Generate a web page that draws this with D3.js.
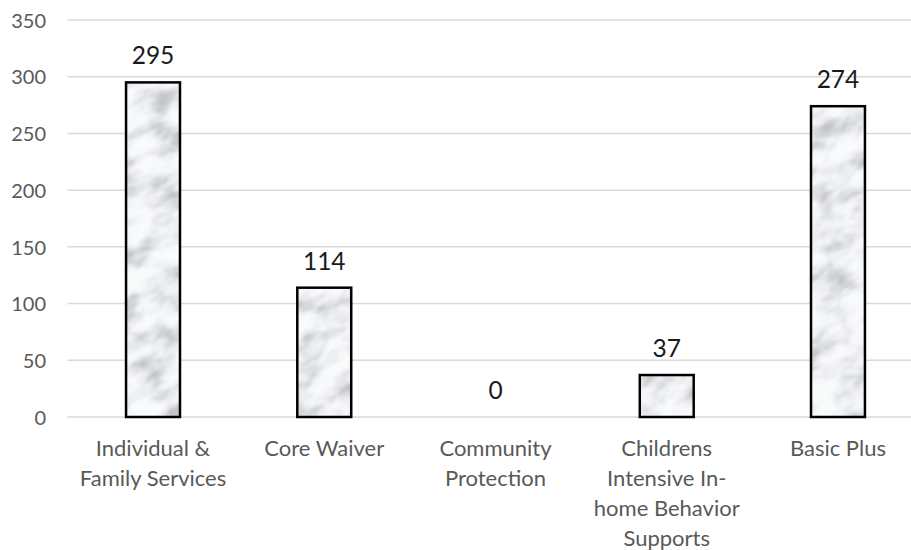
<!DOCTYPE html>
<html>
<head>
<meta charset="utf-8">
<script src="https://cdn.jsdelivr.net/npm/d3@7"></script>
<style>
  html, body { margin: 0; padding: 0; background: #fff; }
  svg { display: block; }
</style>
</head>
<body>
<svg id="chart" width="911" height="550"></svg>
<script>
// Program enrollment counts
const categories = [
  "Individual & Family Services",
  "Core Waiver",
  "Community Protection",
  "Childrens Intensive In-home Behavior Supports",
  "Basic Plus"
];
const values = [295, 114, 0, 37, 274];
const yTicks = [0, 50, 100, 150, 200, 250, 300, 350];

const W = 911, H = 550;
const FONT = "Lato, 'Open Sans', 'Noto Sans', sans-serif";

const svg = d3.select("#chart");

const x = d3.scaleBand()
  .domain(categories)
  .range([67.4, 923.6])
  .paddingInner(0.685)
  .paddingOuter(0.3425);

const y = d3.scaleLinear()
  .domain([0, 350])
  .range([417, 20]);

// Marble texture: soft noise mapped to pale greys, tiled through a rotated pattern
const defs = svg.append("defs");
const f = defs.append("filter")
  .attr("id", "marbleNoise")
  .attr("x", 0).attr("y", 0).attr("width", 1).attr("height", 1)
  .attr("filterUnits", "objectBoundingBox");
f.append("feTurbulence")
  .attr("type", "fractalNoise")
  .attr("baseFrequency", "0.03 0.05")
  .attr("numOctaves", 3)
  .attr("seed", 11)
  .attr("stitchTiles", "stitch")
  .attr("result", "n");
f.append("feColorMatrix")
  .attr("type", "matrix")
  .attr("values", "1.6 0 0 0 -0.3  1.6 0 0 0 -0.3  1.6 0 0 0 -0.3  0 0 0 0 1")
  .attr("result", "g");
const ct = f.append("feComponentTransfer");
ct.append("feFuncR").attr("type", "table").attr("tableValues", "0.55 0.62 0.69 0.76 0.83 0.88 0.92 0.94 0.95 0.96");
ct.append("feFuncG").attr("type", "table").attr("tableValues", "0.56 0.63 0.7 0.77 0.84 0.89 0.93 0.95 0.96 0.97");
ct.append("feFuncB").attr("type", "table").attr("tableValues", "0.59 0.66 0.73 0.8 0.87 0.91 0.94 0.96 0.97 0.98");

const pat = defs.append("pattern")
  .attr("id", "marble")
  .attr("patternUnits", "userSpaceOnUse")
  .attr("width", 700).attr("height", 700)
  .attr("patternTransform", "rotate(-30)");
pat.append("rect")
  .attr("width", 700).attr("height", 700)
  .attr("fill", "#fff")
  .attr("filter", "url(#marbleNoise)");

// Horizontal gridlines
svg.append("g")
  .selectAll("line")
  .data(yTicks)
  .join("line")
  .attr("x1", 67.4).attr("x2", W)
  .attr("y1", d => y(d)).attr("y2", d => y(d))
  .attr("stroke", "#d9d9d9")
  .attr("stroke-width", 1.5);

// Y axis labels
const yAxis = d3.axisLeft(y).tickValues(yTicks).tickSize(0).tickPadding(0);
svg.append("g")
  .attr("transform", "translate(46,0)")
  .call(yAxis)
  .call(g => g.select(".domain").remove())
  .call(g => g.selectAll("text")
    .attr("font-family", FONT)
    .attr("font-size", 20)
    .attr("fill", "#595959")
    .attr("dy", "0.36em"));

// Bars
const bars = svg.append("g");
bars.selectAll("rect")
  .data(values)
  .join("rect")
  .attr("x", (d, i) => x(categories[i]))
  .attr("y", d => y(d))
  .attr("width", x.bandwidth())
  .attr("height", d => y(0) - y(d))
  .attr("fill", "url(#marble)")
  .attr("stroke", d => d > 0 ? "#000" : "none")
  .attr("stroke-width", 2.5);

// Value labels
svg.append("g")
  .selectAll("text")
  .data(values)
  .join("text")
  .attr("x", (d, i) => x(categories[i]) + x.bandwidth() / 2)
  .attr("y", d => y(d) - 18)
  .attr("text-anchor", "middle")
  .attr("font-family", FONT)
  .attr("font-size", 24.5)
  .attr("fill", "#1a1a1a")
  .text(d => d);

// Category labels, wrapped to the band width
const xAxis = d3.axisBottom(x).tickSize(0).tickPadding(0);
const xg = svg.append("g")
  .attr("transform", `translate(0,${y(0)})`)
  .call(xAxis)
  .call(g => g.select(".domain").remove());

function wrap(textSel, maxW, lineH) {
  textSel.each(function(label) {
    const t = d3.select(this);
    const words = label.replace(/-/g, "- ").split(/\s+/).filter(Boolean);
    t.text(null);
    let lines = [], cur = "";
    const probe = t.append("tspan");
    for (const w of words) {
      const sep = cur === "" || cur.endsWith("-") ? "" : " ";
      const trial = cur + sep + w;
      probe.text(trial);
      if (cur !== "" && probe.node().getComputedTextLength() > maxW) {
        lines.push(cur);
        cur = w;
      } else {
        cur = trial;
      }
    }
    if (cur) lines.push(cur);
    probe.remove();
    lines.forEach((ln, k) => {
      t.append("tspan")
        .attr("x", 0)
        .attr("y", 39 + k * lineH)
        .text(ln);
    });
  });
}

xg.selectAll("text")
  .attr("font-family", FONT)
  .attr("font-size", 22)
  .attr("fill", "#595959")
  .attr("dy", 0)
  .call(wrap, 160, 30);
</script>
</body>
</html>
